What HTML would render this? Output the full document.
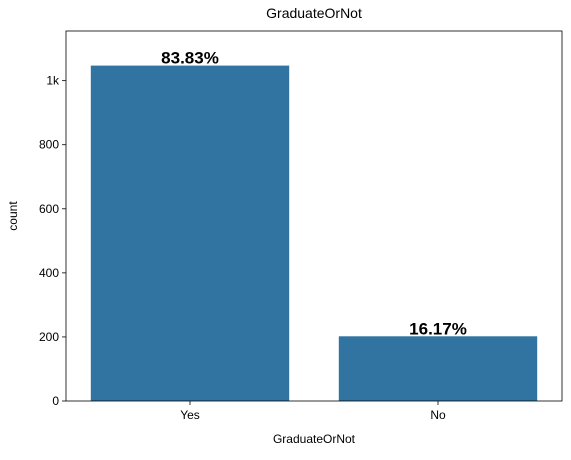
<!DOCTYPE html>
<html><head><meta charset="utf-8"><style>
body{margin:0;background:#fff;}
svg{font-family:"Liberation Sans","DejaVu Sans",sans-serif;}
</style></head><body>
<svg id="chart" width="571" height="455">
<rect width="571" height="455" fill="#fff"/>
</svg>
<script>
const categories = ["Yes", "No"];
const counts = [1047, 202];
const pctLabels = ["83.83%", "16.17%"];
const yTicks = [0, 200, 400, 600, 800, 1000];
const yTickLabels = ["0", "200", "400", "600", "800", "1k"];
const yMax = 1155;

const svg = document.getElementById('chart');
const NS = 'http://www.w3.org/2000/svg';
const L = 66, R = 562, T = 31, B = 401;
const band = (R - L) / categories.length;
const y = v => B - v / yMax * (B - T);
const xc = i => L + band * (i + 0.5);
function mk(tag, attrs, text) {
  const e = document.createElementNS(NS, tag);
  for (const k in attrs) e.setAttribute(k, attrs[k]);
  if (text !== undefined) e.textContent = text;
  svg.appendChild(e);
  return e;
}
categories.forEach((c, i) => {
  const bw = band * 0.8;
  const r = mk('rect', {x: xc(i) - bw / 2, y: y(counts[i]), width: bw, height: B - y(counts[i]), fill: '#3274a1'});
  
  
  const t = mk('text', {x: xc(i), y: y(counts[i]) - 2, 'text-anchor': 'middle', 'font-size': 17, 'font-weight': 'bold', fill: '#000'}, pctLabels[i]);
  
  
  mk('line', {x1: xc(i), x2: xc(i), y1: B, y2: B + 4, stroke: '#000', 'stroke-width': 0.8});
  const xl = mk('text', {x: xc(i), y: B + 18, 'text-anchor': 'middle', 'font-size': 12}, c);
  
  
});
yTicks.forEach((v, i) => {
  mk('line', {x1: L - 4, x2: L, y1: y(v), y2: y(v), stroke: '#000', 'stroke-width': 0.8});
  const t = mk('text', {x: L - 7, y: y(v) + 4, 'text-anchor': 'end', 'font-size': 12}, yTickLabels[i]);
  
  
});
const frame = mk('rect', {x: L, y: T, width: R - L, height: B - T, fill: 'none', stroke: '#000', 'stroke-width': 0.8});


const title = mk('text', {x: (L + R) / 2, y: T - 13, 'text-anchor': 'middle', 'font-size': 14}, 'GraduateOrNot');


const xt = mk('text', {x: (L + R) / 2, y: 443, 'text-anchor': 'middle', 'font-size': 12}, 'GraduateOrNot');


const yt = mk('text', {x: 17, y: (T + B) / 2, 'text-anchor': 'middle', 'font-size': 12, transform: 'rotate(-90 17 ' + (T + B) / 2 + ')'}, 'count');


</script>
</body></html>
